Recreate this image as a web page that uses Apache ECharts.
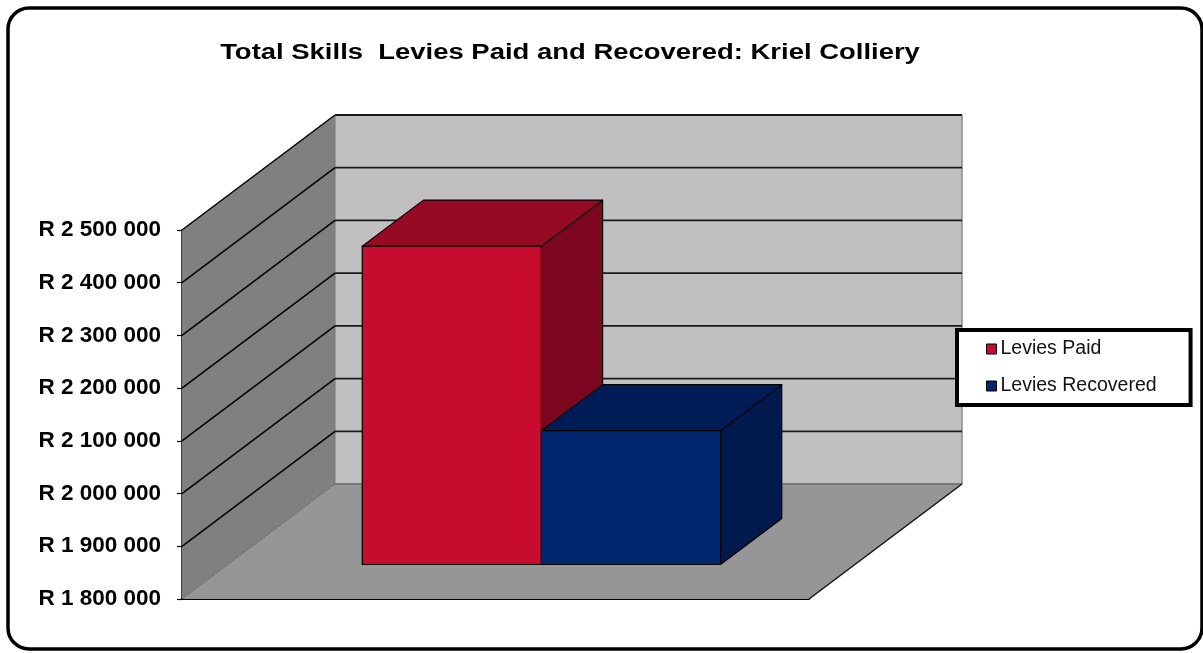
<!DOCTYPE html>
<html>
<head>
<meta charset="utf-8">
<script src="https://cdn.jsdelivr.net/npm/echarts@6/dist/echarts.min.js"></script>
<style>
html,body{margin:0;padding:0;background:#fff;}
#chart{width:1203px;height:653px;}
</style>
</head>
<body>
<div id="chart"></div>
<script>
// ---- data ----
const categories = ['Kriel Colliery'];
const seriesNames = ['Levies Paid', 'Levies Recovered'];
const leviesPaid = [2404000];
const leviesRecovered = [2054000];
const yTicks = [1800000, 1900000, 2000000, 2100000, 2200000, 2300000, 2400000, 2500000];
const titleText = 'Total Skills  Levies Paid and Recovered: Kriel Colliery';

// ---- styling / layout ----
const DX = 153, DY = -115;        // depth offset of the back wall
const F_FRONT = 0.30, F_BACK = 0.70; // bar depth position (fractions)
const GAP = 1.5;                  // Excel gap width 150%
const faceColors = [
  {front: '#C80C30', top: '#960A23', side: '#7D071E'},
  {front: '#002670', top: '#001C56', side: '#001A4D'}
];

const yMin = yTicks[0], yMax = yTicks[yTicks.length - 1], yStep = yTicks[1] - yTicks[0];

function fmt(v) {
  return 'R ' + String(v).replace(/\B(?=(\d{3})+(?!\d))/g, ' ');
}

function wallsRender(params, api) {
  const cs = params.coordSys;
  const x0 = cs.x, x1 = cs.x + cs.width;
  const yb = api.coord([0, yMin])[1];
  const yt = api.coord([0, yMax])[1];
  const ch = [];
  ch.push({type: 'polygon', shape: {points: [[x0, yb], [x1, yb], [x1 + DX, yb + DY], [x0 + DX, yb + DY]]},
    style: {fill: '#969696', stroke: null}});
  ch.push({type: 'polygon', shape: {points: [[x0, yb], [x0, yt], [x0 + DX, yt + DY], [x0 + DX, yb + DY]]},
    style: {fill: '#808080', stroke: null}});
  ch.push({type: 'rect', shape: {x: x0 + DX, y: yt + DY, width: cs.width, height: yb - yt},
    style: {fill: '#C0C0C0', stroke: null}});
  ch.push({type: 'line', shape: {x1: x1 + DX, y1: yt + DY, x2: x1 + DX, y2: yb + DY},
    style: {stroke: '#888', lineWidth: 1.5}});
  ch.push({type: 'line', shape: {x1: x0 + DX, y1: yt + DY, x2: x0 + DX, y2: yb + DY},
    style: {stroke: '#777', lineWidth: 1}});
  ch.push({type: 'line', shape: {x1: x0 + DX, y1: yb + DY, x2: x1 + DX, y2: yb + DY},
    style: {stroke: '#6a6a6a', lineWidth: 1.5}});
  ch.push({type: 'line', shape: {x1: x0, y1: yb, x2: x0 + DX, y2: yb + DY},
    style: {stroke: '#5a5a5a', lineWidth: 1, lineDash: [2, 1]}});
  ch.push({type: 'line', shape: {x1: x1, y1: yb, x2: x1 + DX, y2: yb + DY},
    style: {stroke: '#111', lineWidth: 1.5}});
  yTicks.forEach(function (v) {
    if (v === yMin) return;
    const y = api.coord([0, v])[1];
    ch.push({type: 'line', shape: {x1: x0, y1: y, x2: x0 + DX, y2: y + DY},
      style: {stroke: '#000', lineWidth: 1.5}});
    ch.push({type: 'line', shape: {x1: x0 + DX, y1: y + DY, x2: x1 + DX, y2: y + DY},
      style: {stroke: '#1a1a1a', lineWidth: 1.8}});
  });
  return {type: 'group', children: ch};
}

function makeBarRender(idx) {
  return function (params, api) {
    const cat = api.value(0), val = api.value(1);
    const band = api.size([1, 0])[0];
    const bw = band / (seriesNames.length + GAP);
    const cx = api.coord([cat, val])[0];
    const xl = cx - bw * seriesNames.length / 2 + idx * bw;
    const xr = xl + bw;
    const yTop = api.coord([cat, val])[1];
    const yBot = api.coord([cat, yMin])[1];
    const fx = DX * F_FRONT, fy = DY * F_FRONT;
    const bx = DX * F_BACK, by = DY * F_BACK;
    const c = faceColors[idx];
    const st = {stroke: '#000', lineWidth: 1.2, lineJoin: 'round'};
    return {type: 'group', children: [
      {type: 'polygon', shape: {points: [[xr + fx, yTop + fy], [xr + bx, yTop + by], [xr + bx, yBot + by], [xr + fx, yBot + fy]]},
        style: Object.assign({fill: c.side}, st)},
      {type: 'polygon', shape: {points: [[xl + fx, yTop + fy], [xr + fx, yTop + fy], [xr + bx, yTop + by], [xl + bx, yTop + by]]},
        style: Object.assign({fill: c.top}, st)},
      {type: 'rect', shape: {x: xl + fx, y: yTop + fy, width: bw, height: yBot - yTop},
        style: Object.assign({fill: c.front}, st)}
    ]};
  };
}

const chart = echarts.init(document.getElementById('chart'), null, {renderer: 'canvas'});
const option = {
  animation: false,
  backgroundColor: '#fff',
  graphic: [
    {type: 'rect', shape: {x: 8, y: 8, width: 1194, height: 641, r: 21},
      style: {fill: null, stroke: '#000', lineWidth: 3.5}, z: 100, silent: true},
    {type: 'text', x: 570, y: 53, scaleX: 1.22,
      style: {text: titleText, font: 'bold 22.5px Arial, "Liberation Sans", sans-serif', fill: '#000',
        align: 'center', verticalAlign: 'middle'}, z: 100}
  ],
  legend: {
    orient: 'vertical',
    left: 957, top: 330,
    padding: [9, 34, 9, 29],
    itemGap: 17,
    itemWidth: 10, itemHeight: 10,
    icon: 'rect',
    borderColor: '#000', borderWidth: 4,
    backgroundColor: '#fff',
    itemStyle: {borderColor: '#000', borderWidth: 1},
    textStyle: {fontFamily: 'Arial, "Liberation Sans", sans-serif', fontSize: 19.5, color: '#111', lineHeight: 20, padding: [0, 0, 0, -1]},
    data: [
      {name: seriesNames[0], itemStyle: {color: faceColors[0].front}},
      {name: seriesNames[1], itemStyle: {color: faceColors[1].front}}
    ]
  },
  grid: {left: 182, top: 230, width: 627, height: 369, containLabel: false, outerBoundsMode: 'none'},
  xAxis: {
    type: 'category', data: categories,
    axisLine: {show: true, lineStyle: {color: '#000', width: 2}},
    axisTick: {show: false}, axisLabel: {show: false}, splitLine: {show: false}
  },
  yAxis: {
    type: 'value', min: yMin, max: yMax, interval: yStep,
    axisLine: {show: true, lineStyle: {color: '#000', width: 1.5}},
    axisTick: {show: true, length: 5, lineStyle: {color: '#000', width: 1.2}},
    axisLabel: {margin: 21, formatter: fmt, fontFamily: 'Arial, "Liberation Sans", sans-serif',
      fontWeight: 'bold', fontSize: 22.5, color: '#000'},
    splitLine: {show: false}
  },
  series: [
    {type: 'custom', name: '__walls', renderItem: wallsRender, data: [[0, yMin]], z: 1, silent: true},
    {type: 'custom', name: seriesNames[0], renderItem: makeBarRender(0),
      itemStyle: {color: faceColors[0].front},
      data: categories.map(function (c, i) { return [i, leviesPaid[i]]; }), z: 2},
    {type: 'custom', name: seriesNames[1], renderItem: makeBarRender(1),
      itemStyle: {color: faceColors[1].front},
      data: categories.map(function (c, i) { return [i, leviesRecovered[i]]; }), z: 3}
  ]
};
chart.setOption(option);
</script>
</body>
</html>
